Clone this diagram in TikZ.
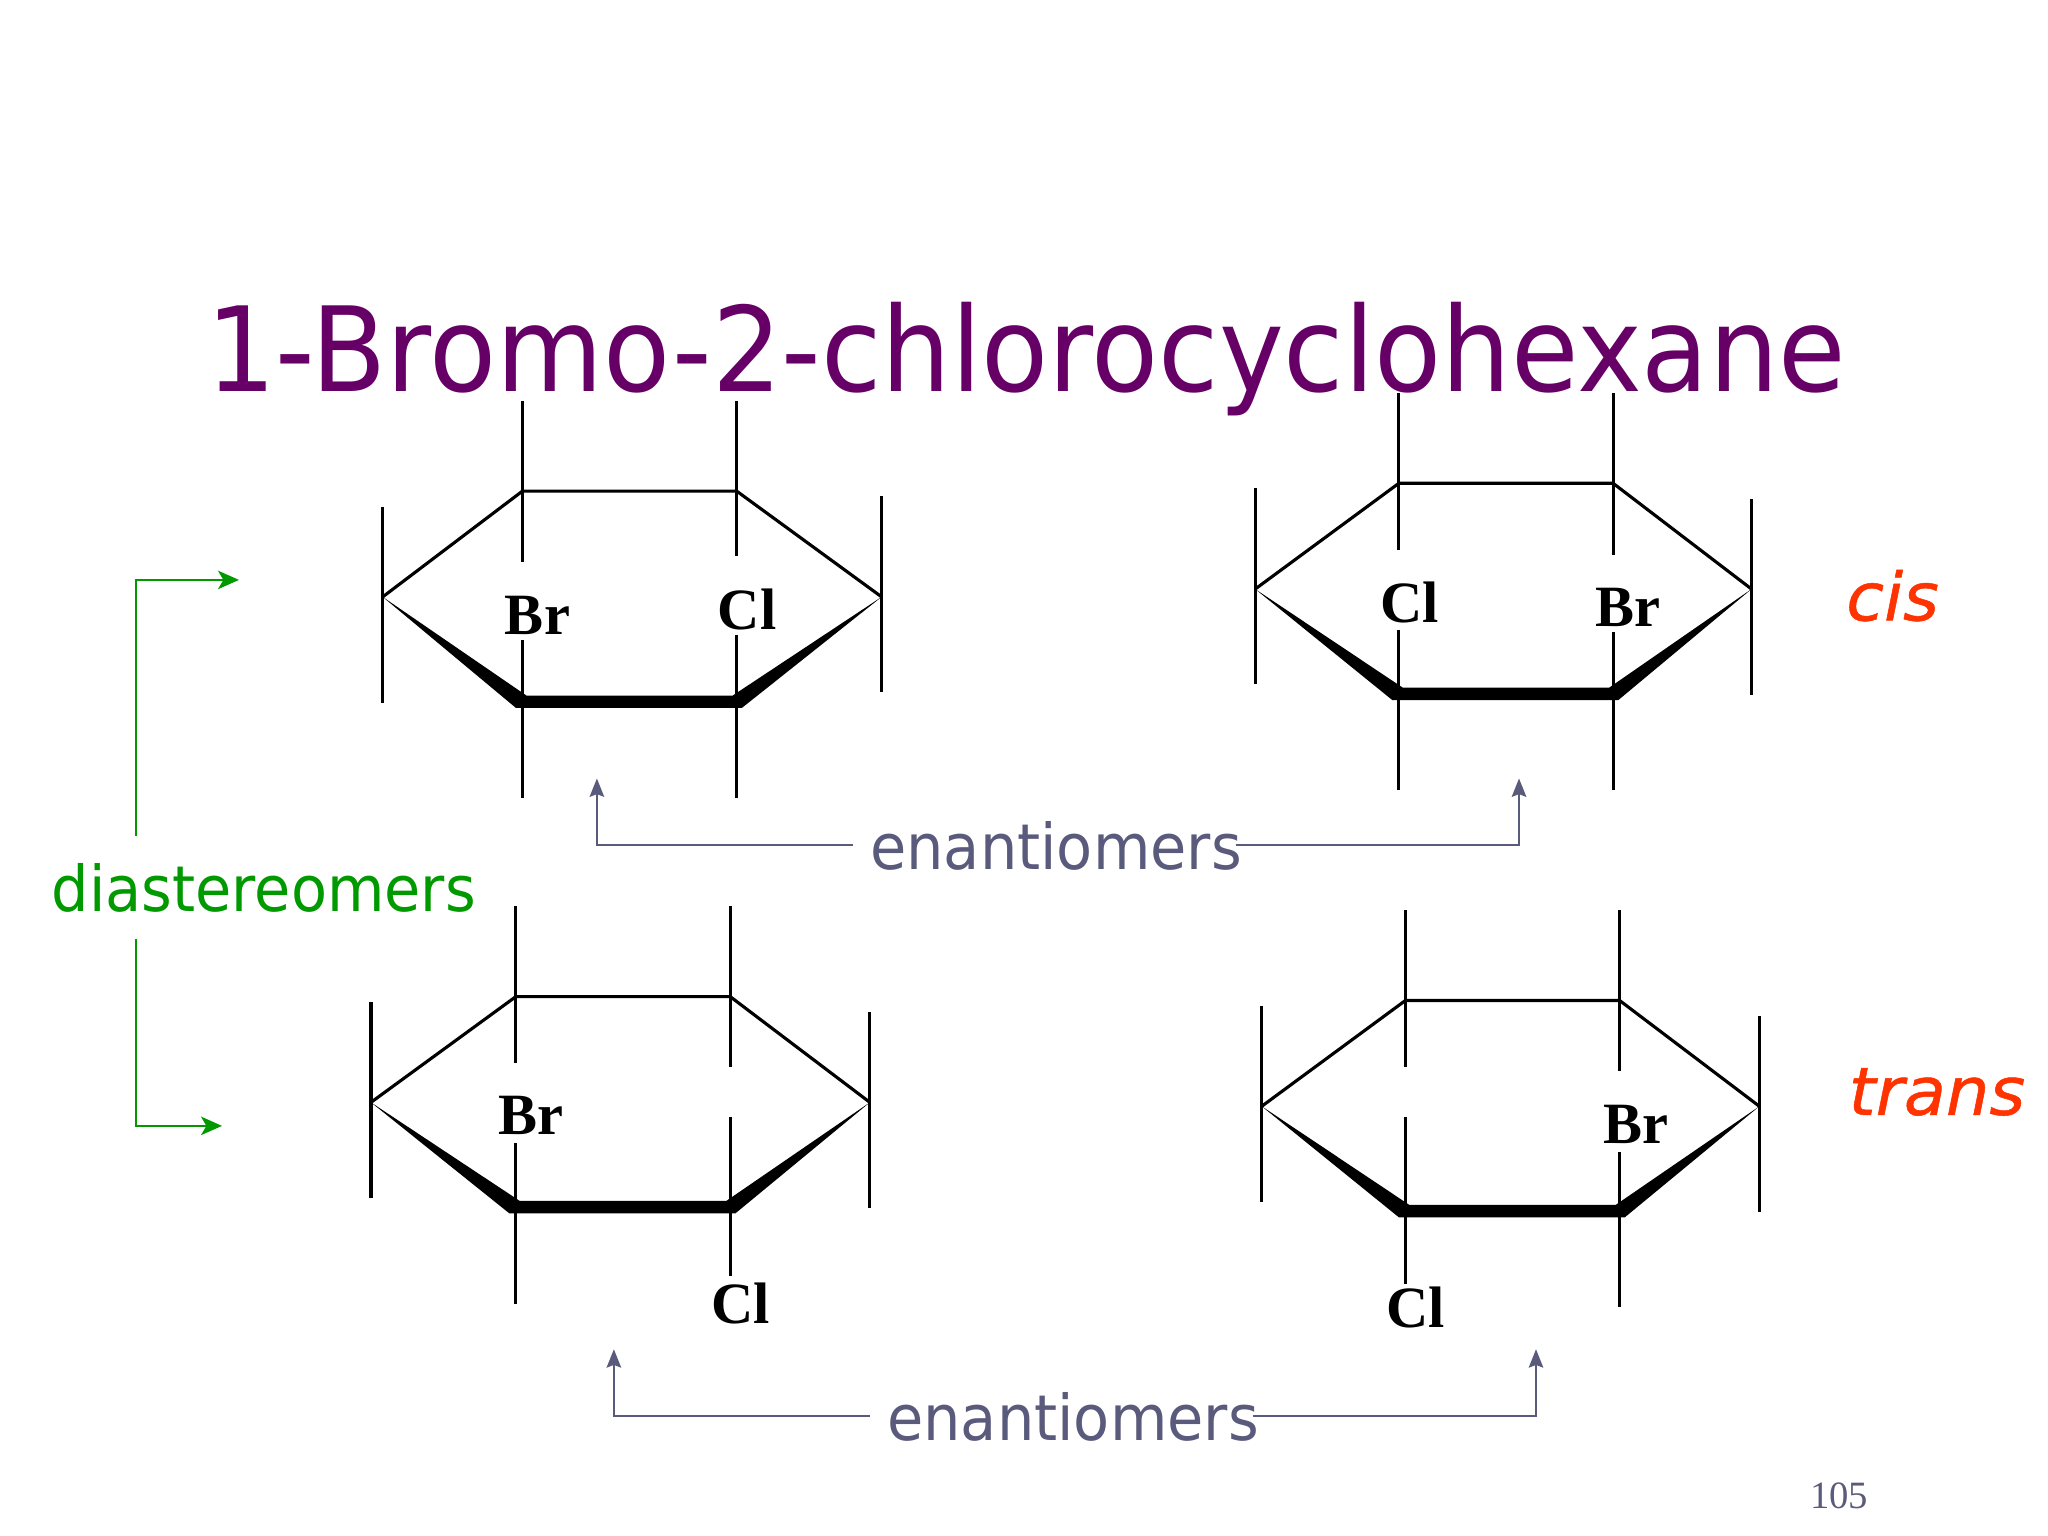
\documentclass[tikz,border=0pt]{standalone}
\usepackage{fontspec}
\setmainfont{Liberation Serif}
\newfontfamily\tah{DejaVu Sans}[FakeStretch=0.933]
\newfontfamily\tahslant{DejaVu Sans Oblique}[FakeStretch=1.03,FakeBold=0.8]
\usetikzlibrary{arrows.meta}
\definecolor{titlec}{HTML}{660066}
\definecolor{greenc}{HTML}{009900}
\definecolor{greyc}{HTML}{5A5A7C}
\definecolor{orangec}{HTML}{FF3300}
\tikzset{
  bondline/.style={line width=1.2pt,black},
  atomlabel/.style={inner sep=0pt,font=\fontsize{22.4}{23}\selectfont\bfseries},
  wordlabel/.style={inner sep=0pt,font=\tah\fontsize{24.2}{25}\selectfont},
  stereolabel/.style={inner sep=0pt,text=orangec,font=\tahslant\fontsize{25.5}{26}\selectfont},
  greenarrow/.style={line width=1pt,greenc,-{Stealth[length=8pt,width=7pt,inset=2pt]}},
  greyarrow/.style={line width=1pt,greyc,-{Stealth[length=7pt,width=5.5pt,inset=1pt]}},
}
\begin{document}
\begin{tikzpicture}[x=0.5pt,y=-0.5pt]
\useasboundingbox (0,0) rectangle (1568,1176);
\node[inner sep=0pt,anchor=base,text=titlec,font=\tah\fontsize{45}{46}\selectfont] (title) at (785.5,300) {1-Bromo-2-chlorocyclohexane};
% rings: x/y of left vertex, inner x offset, right x offset, then stub ends
\foreach \x/\y/\ix/\ir/\lt/\rt/\ua/\ub/\la/\ra/\lb/\rb in {
  293/457/107/382/-69/-77/-27/-31/33/29/154/154,
  961/451/110/380/-77/-69/-30/-26/31/33/154/154,
  284/844/111/382/-77/-69/-30/-27/31/11/154/133,
  966/847/110/381/-77/-69/-30/-27/8/35/136/154}{
  \pgfmathsetmacro{\iy}{\ix+164}
  \begin{scope}[shift={(\x,\y)}]
    \draw[bondline,line join=miter] (0,0) -- (\ix,-81) -- (\iy,-81) -- (\ir,0);
    \fill[black] (0,0) -- (\ix+3,75.5) -- (\iy-3,75.5) -- (\ir,0) -- (\iy+4,85) -- (\ix-5,85) -- cycle;
    \draw[bondline] (0,\lt) -- +(0,150);
    \draw[bondline] (\ir,\rt) -- +(0,150);
    \draw[bondline] (\ix,-150) -- (\ix,\ua);
    \draw[bondline] (\iy,-150) -- (\iy,\ub);
    \draw[bondline] (\ix,\la) -- (\ix,\lb);
    \draw[bondline] (\iy,\ra) -- (\iy,\rb);
  \end{scope}
}
% atom labels
\node[atomlabel] (br1) at (411.5,471) {Br};
\node[atomlabel] (cl1) at (572,467) {Cl};
\node[atomlabel] (cl2) at (1079,461) {Cl};
\node[atomlabel] (br2) at (1246.5,465) {Br};
\node[atomlabel] (br3) at (406.5,854) {Br};
\node[atomlabel] (cl3) at (567,998) {Cl};
\node[atomlabel] (br4) at (1252.5,861) {Br};
\node[atomlabel] (cl4) at (1084,1001) {Cl};
% words
\node[wordlabel,text=greenc] (dia) at (202,680) {diastereomers};
\node[wordlabel,text=greyc] (en1) at (808.5,648) {enantiomers};
\node[wordlabel,text=greyc] (en2) at (821.5,1085) {enantiomers};
\node[stereolabel] (cis) at (1449,456) {cis};
\node[stereolabel] (trans) at (1483,836) {trans};
\node[inner sep=0pt,text=greyc,font=\fontsize{14.8}{15}\selectfont] (pg) at (1408,1145) {105};
% arrow ends
\coordinate (g1) at (183,444);
\coordinate (g2) at (170,862);
\coordinate (a1) at (457,596);
\coordinate (a2) at (1163,596);
\coordinate (a3) at (470,1033);
\coordinate (a4) at (1176,1033);
\coordinate (ds1) at (104,640);
\coordinate (ds2) at (104,719);
\coordinate (es1) at (653,647);
\coordinate (ef1) at (946,647);
\coordinate (es2) at (666,1084);
\coordinate (ef2) at (959,1084);
\draw[greenarrow] (ds1) |- (g1);
\draw[greenarrow] (ds2) |- (g2);
\draw[greyarrow] (es1) -| (a1);
\draw[greyarrow] (ef1) -| (a2);
\draw[greyarrow] (es2) -| (a3);
\draw[greyarrow] (ef2) -| (a4);
\end{tikzpicture}
\end{document}
